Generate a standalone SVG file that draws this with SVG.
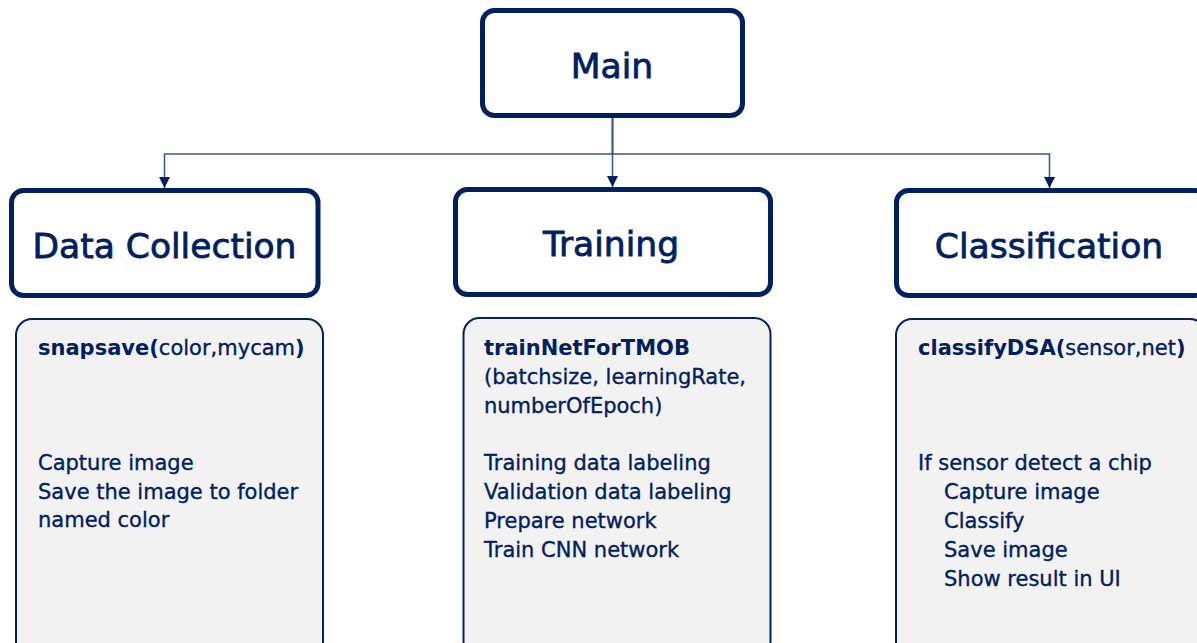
<svg xmlns="http://www.w3.org/2000/svg" width="1197" height="643" viewBox="0 0 1197 643">
  <style>
    .top { fill: #ffffff; stroke: #002060; stroke-width: 5; }
    .body { fill: #f2f2f2; stroke: #002060; stroke-width: 2; }
    .title { font-family: "DejaVu Sans", sans-serif; font-size: 34.5px; fill: #002060; stroke: #002060; stroke-width: 0.8; text-anchor: middle; }
    .txt { font-family: "DejaVu Sans", sans-serif; font-size: 21px; fill: #002060; stroke: #002060; stroke-width: 0.35; }
    .b { font-weight: bold; stroke-width: 0; }
    .conn { fill: none; stroke: #3d5289; stroke-width: 1.5; }
  </style>
  <defs>
    <marker id="arrow" markerUnits="userSpaceOnUse" markerWidth="12" markerHeight="11" refX="11" refY="5.5" orient="auto">
      <path d="M0,0 L11,5.5 L0,11 Z" fill="#002060"/>
    </marker>
  </defs>
  <rect width="1197" height="643" fill="#ffffff"/>

  <g id="connectors">
    <path class="conn" d="M612.5,118 V154 H164.5 V188" marker-end="url(#arrow)"/>
    <path class="conn" d="M612.5,118 V187" marker-end="url(#arrow)"/>
    <path class="conn" d="M612.5,118 V154 H1049.5 V188" marker-end="url(#arrow)"/>
  </g>

  <g id="main">
    <rect class="top" x="482.5" y="10.5" width="260" height="105" rx="12"/>
    <text class="title" x="612" y="78">Main</text>
  </g>

  <g id="data-collection">
    <rect class="top" x="11.5" y="190.5" width="306.5" height="105" rx="12"/>
    <text class="title" x="164.5" y="258">Data Collection</text>
  </g>

  <g id="training">
    <rect class="top" x="455.5" y="189.5" width="315" height="105" rx="12"/>
    <text class="title" x="611" y="256">Training</text>
  </g>

  <g id="classification">
    <rect class="top" x="896.5" y="190.5" width="310" height="105" rx="12"/>
    <text class="title" x="1049" y="258">Classification</text>
  </g>

  <g id="data-collection-detail">
    <rect class="body" x="16" y="319" width="307" height="340" rx="16"/>
    <text class="txt" x="38" y="355"><tspan class="b">snapsave(</tspan>color,mycam<tspan class="b">)</tspan></text>
    <text class="txt" x="38" y="470">Capture image</text>
    <text class="txt" x="38" y="499">Save the image to folder</text>
    <text class="txt" x="38" y="527">named color</text>
  </g>

  <g id="training-detail">
    <rect class="body" x="463.5" y="318" width="307" height="340" rx="16"/>
    <text class="txt b" x="484" y="355" font-size="20">trainNetForTMOB</text>
    <text class="txt" x="484" y="384">(batchsize, learningRate,</text>
    <text class="txt" x="484" y="413">numberOfEpoch)</text>
    <text class="txt" x="484" y="470">Training data labeling</text>
    <text class="txt" x="484" y="499">Validation data labeling</text>
    <text class="txt" x="484" y="528">Prepare network</text>
    <text class="txt" x="484" y="557">Train CNN network</text>
  </g>

  <g id="classification-detail">
    <rect class="body" x="896" y="319" width="310" height="340" rx="16"/>
    <text class="txt" x="918" y="355"><tspan class="b">classifyDSA(</tspan>sensor,net<tspan class="b">)</tspan></text>
    <text class="txt" x="918" y="470">If sensor detect a chip</text>
    <text class="txt" x="944" y="499">Capture image</text>
    <text class="txt" x="944" y="528">Classify</text>
    <text class="txt" x="944" y="557">Save image</text>
    <text class="txt" x="944" y="586">Show result in UI</text>
  </g>
</svg>
